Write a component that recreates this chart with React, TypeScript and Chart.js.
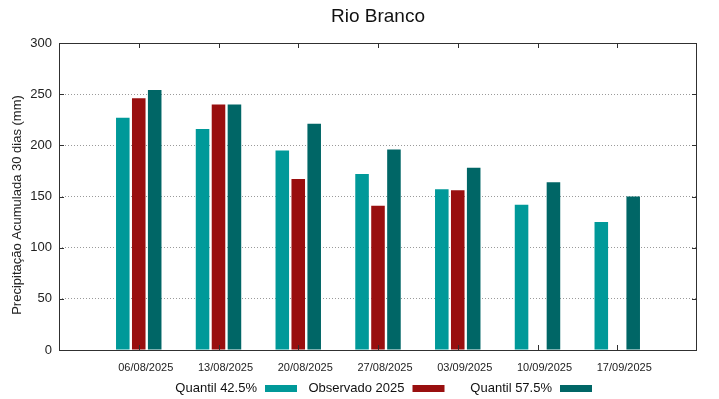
import React, { useEffect, useRef } from 'react';
import { Chart, registerables } from 'chart.js';

Chart.register(...registerables);

const TITLE = 'Rio Branco';
const Y_LABEL = 'Precipitação Acumulada 30 dias (mm)';
const dates = ['06/08/2025', '13/08/2025', '20/08/2025', '27/08/2025', '03/09/2025', '10/09/2025', '17/09/2025'];
const quantil425 = [227, 216, 195, 172, 157, 142, 125];
const observado2025 = [246, 240, 167, 141, 156, null, null];
const quantil575 = [254, 240, 221, 196, 178, 164, 150];
const seriesNames = ['Quantil 42.5%', 'Observado 2025', 'Quantil 57.5%'];
const seriesColors = ['#009999', '#990f0f', '#006666'];
const yMin = 0;
const yMax = 300;
const yStep = 50;

const FONT = '"Liberation Sans", Arial, sans-serif';

const pad = (arr: (number | null)[]) => [null, ...arr, null];

const decorPlugin = {
  id: 'decor',
  afterDraw(chart: any) {
    const { ctx, chartArea: a, scales } = chart;
    ctx.save();
    // frame
    ctx.strokeStyle = '#303030';
    ctx.lineWidth = 1;
    ctx.strokeRect(a.left + 0.5, a.top + 0.5, a.right - a.left - 1, a.bottom - a.top);
    // x ticks (inside, mirrored)
    const xs = scales.x;
    for (let i = 1; i <= dates.length; i++) {
      const px = Math.round(xs.getPixelForTick(i)) + 0.5;
      ctx.beginPath();
      ctx.moveTo(px, a.bottom);
      ctx.lineTo(px, a.bottom - 5);
      ctx.moveTo(px, a.top);
      ctx.lineTo(px, a.top + 5);
      ctx.stroke();
    }
    // y ticks (inside, mirrored)
    const ys = scales.y;
    for (let v = yMin; v <= yMax; v += yStep) {
      const py = Math.round(ys.getPixelForValue(v)) + 0.5;
      ctx.beginPath();
      ctx.moveTo(a.left, py);
      ctx.lineTo(a.left + 5, py);
      ctx.moveTo(a.right, py);
      ctx.lineTo(a.right - 5, py);
      ctx.stroke();
    }
    // title
    ctx.fillStyle = '#111';
    ctx.font = `19px ${FONT}`;
    ctx.textAlign = 'center';
    ctx.textBaseline = 'middle';
    ctx.fillText(TITLE, (a.left + a.right) / 2, 17);
    // y axis label
    ctx.save();
    ctx.translate(17, 205);
    ctx.rotate(-Math.PI / 2);
    ctx.font = `13px ${FONT}`;
    ctx.fillStyle = '#222';
    ctx.fillText(Y_LABEL, 0, 0);
    ctx.restore();
    // legend: text then sample
    ctx.font = `13px ${FONT}`;
    ctx.textAlign = 'right';
    chart.data.datasets.forEach((ds: any, i: number) => {
      const bx = 265 + i * 147.5;
      ctx.fillStyle = '#111';
      ctx.fillText(ds.label, bx - 8, 388);
      ctx.fillStyle = ds.backgroundColor;
      ctx.fillRect(bx, 385, 32, 7);
    });
    ctx.restore();
  },
};

export default function App() {
  const ref = useRef<HTMLCanvasElement>(null);
  useEffect(() => {
    if (!ref.current) return;
    const labels = ['', ...dates, ''];
    const chart = new Chart(ref.current, {
      type: 'bar',
      data: {
        labels,
        datasets: [
          { label: seriesNames[0], data: pad(quantil425), backgroundColor: seriesColors[0] },
          { label: seriesNames[1], data: pad(observado2025), backgroundColor: seriesColors[1] },
          { label: seriesNames[2], data: pad(quantil575), backgroundColor: seriesColors[2] },
        ],
      },
      options: {
        animation: false,
        responsive: false,
        maintainAspectRatio: false,
        layout: { padding: { left: 0, right: 22, top: 43, bottom: 0 } },
        datasets: { bar: { categoryPercentage: 0.6, barPercentage: 0.85 } },
        plugins: {
          legend: { display: false },
          title: { display: false },
          tooltip: { enabled: false },
        },
        scales: {
          x: {
            offset: false,
            grid: { display: false, drawTicks: false },
            border: { display: false },
            ticks: {
              autoSkip: false,
              maxRotation: 0,
              minRotation: 0,
              padding: 11,
              labelOffset: 7,
              color: '#222',
              font: { family: FONT, size: 11 },
            },
            afterFit: (s: any) => { s.height = 49; },
          },
          y: {
            min: yMin,
            max: yMax,
            ticks: {
              stepSize: yStep,
              padding: 7,
              color: '#222',
              font: { family: FONT, size: 13 },
            },
            grid: { color: '#9a9a9a', drawTicks: false, lineWidth: 1 },
            border: { display: false, dash: [1, 2] },
            title: { display: false },
            afterFit: (s: any) => { s.width = 59; },
          },
        },
      },
      plugins: [decorPlugin],
    });
    return () => chart.destroy();
  }, []);
  return (
    <div style={{ position: 'fixed', left: 0, top: 0, width: 719, height: 399, background: '#fff' }}>
      <canvas ref={ref} width={719} height={399} />
    </div>
  );
}
